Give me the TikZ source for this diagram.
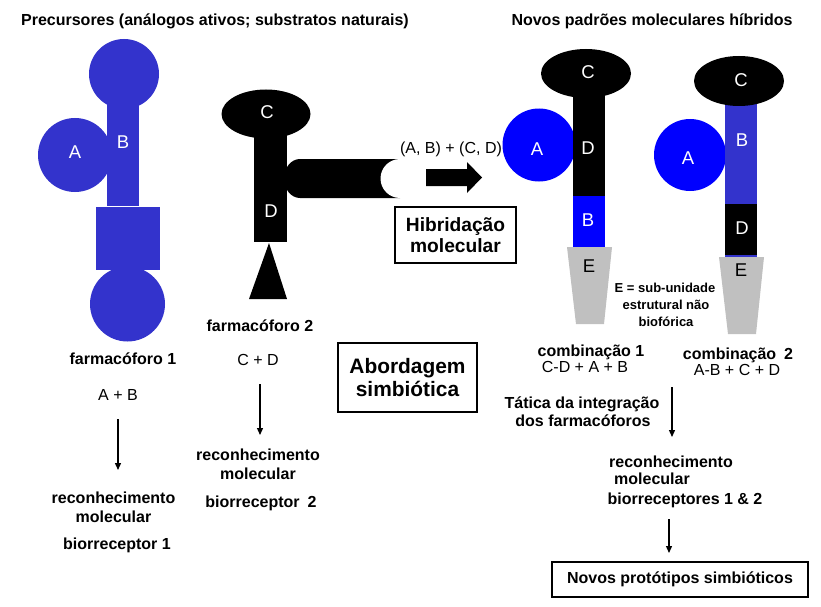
\documentclass[tikz,border=0pt]{standalone}
\usepackage{fontspec}
\setmainfont{Liberation Sans}
\usetikzlibrary{arrows.meta}
\definecolor{pblue}{HTML}{3333CC}
\definecolor{bblue}{HTML}{0000FF}
\definecolor{egray}{HTML}{C0C0C0}
\begin{document}
\begin{tikzpicture}[x=1pt,y=-1pt,
  lbl/.style={font=\bfseries\fontsize{16}{18}\selectfont, inner sep=0pt, text height=11.5pt, text depth=0pt},
  rlbl/.style={font=\fontsize{16}{18}\selectfont, inner sep=0pt, text height=11.5pt, text depth=0pt},
  note/.style={font=\bfseries\fontsize{13}{15}\selectfont, inner sep=0pt, text height=9.3pt, text depth=0pt},
  shl/.style={font=\fontsize{18.5}{18.5}\selectfont, inner sep=0pt, text height=13.2pt, text depth=0pt, text=white},
  shk/.style={shl, text=black},
  bigbox/.style={draw, line width=1.6pt, align=center, inner sep=0pt},
  conn/.style={line width=1.3pt, -{Triangle[length=7pt,width=6pt]}}
]
\useasboundingbox (0,0) rectangle (821,607);
\fill[white] (0,0) rectangle (821,607);

% ---------- titles
\node[lbl] (t1) at (215,20) {Precursores (análogos ativos; substratos naturais)};
\node[lbl] (t2) at (652,20) {Novos padrões moleculares híbridos};

% ---------- pharmacophore 1 (blue)
\fill[pblue] (124,74) circle[radius=35];
\fill[pblue] (107,100) rectangle (139,206);
\fill[pblue] (75,155) circle[radius=37];
\fill[pblue] (96,207) rectangle (160,270);
\fill[pblue] (127.5,304) circle[radius=37.5];
\node[shl] (pA) at (75,152) {A};
\node[shl] (pB) at (123,142) {B};

% ---------- pharmacophore 2 (black)
\fill[black] (400,159) -- (300,159)
  arc[start angle=270, end angle=90, x radius=16, y radius=19.5] -- (400,198) -- cycle;
\fill[white] (400,178.5) circle[radius=19.5];
\fill[black] (254,120) rectangle (287,242);
\fill[black] (266,114) ellipse[x radius=44.5, y radius=24.5];
\fill[black] (269,243) -- (287,299) -- (249,299) -- cycle;
\node[shl] (pC) at (267,112) {C};
\node[shl] (pD) at (271,211) {D};

% ---------- hybridization arrow
\node[rlbl] (abcd0) at (451,148) {(A, B) + (C, D)};
\fill[black] (426,169) -- (467,169) -- (467,162) -- (482,177.5) -- (467,193) -- (467,186) -- (426,186) -- cycle;
\node[bigbox, font=\bfseries\fontsize{19.2}{21}\selectfont, minimum width=121pt, minimum height=56pt] (hib) at (455.5,235) {Hibridação\\molecular};
\node[bigbox, font=\bfseries\fontsize{20.9}{23}\selectfont, minimum width=139pt, minimum height=69pt] (abo) at (407.5,377.5) {Abordagem\\simbiótica};

% ---------- combination 1
\fill[bblue] (539,145) circle[radius=36.5];
\fill[black] (573,90) rectangle (605,196);
\fill[bblue] (573,196) rectangle (605,247);
\fill[black] (586,73.5) ellipse[x radius=45, y radius=24.5];
\fill[egray] (567,247) -- (612,247) -- (604,324) -- (576,324) -- cycle;
\node[shl] (c1A) at (537,149) {A};
\node[shl] (c1C) at (588,72) {C};
\node[shl] (c1D) at (588,148) {D};
\node[shl] (c1B) at (588,220) {B};
\node[shk] (c1E) at (589,266) {E};

% ---------- combination 2
\fill[bblue] (690,155) circle[radius=36];
\fill[pblue] (725,100) rectangle (757,204);
\fill[black] (725,204) rectangle (757,255);
\fill[pblue] (725,255) rectangle (757,257.5);
\fill[black] (739,81) ellipse[x radius=45, y radius=25];
\fill[egray] (719,257) -- (764,257) -- (756,334) -- (728,334) -- cycle;
\node[shl] (c2A) at (688,158) {A};
\node[shl] (c2C) at (741,80) {C};
\node[shl] (c2B) at (742,140) {B};
\node[shl] (c2D) at (742,228) {D};
\node[shk] (c2E) at (741,270) {E};

% ---------- E note
\node[note] (n1) at (665,288) {E = sub-unidade};
\node[note] (n2) at (666,305) {estrutural não};
\node[note] (n3) at (666,322) {biofórica};

% ---------- left column
\node[lbl] (f1) at (123,359) {farmacóforo 1};
\node[rlbl] (ab) at (118,395) {A + B};
\coordinate (a1s) at (118,419);
\coordinate (a1e) at (118,470);
\draw[conn] (a1s) -- (a1e);
\node[lbl] (r1) at (113.5,498) {reconhecimento};
\node[lbl] (m1) at (113.5,517) {molecular};
\node[lbl] (b1) at (117,544) {biorreceptor 1};

% ---------- middle column
\node[lbl] (f2) at (260,326) {farmacóforo 2};
\node[rlbl] (cd) at (258,360) {C + D};
\coordinate (a2s) at (260,384);
\coordinate (a2e) at (260,435);
\draw[conn] (a2s) -- (a2e);
\node[lbl] (r2) at (258,455) {reconhecimento};
\node[lbl] (m2) at (258,474) {molecular};
\node[lbl] (b2) at (261,502) {biorreceptor\enspace 2};

% ---------- right column
\node[lbl] (k1) at (591,351) {combinação 1};
\node[rlbl] (k1f) at (585,367) {C-D + A + B};
\node[lbl] (k2) at (738,354) {combinação\enspace 2};
\node[rlbl] (k2f) at (737,370) {A-B + C + D};
\node[lbl] (tt1) at (582,403) {Tática da integração};
\node[lbl] (tt2) at (583,421) {dos farmacóforos};
\coordinate (a3s) at (672,387);
\coordinate (a3e) at (672,437);
\draw[conn] (a3s) -- (a3e);
\node[lbl] (r3) at (671,462) {reconhecimento};
\node[lbl] (m3) at (652,479) {molecular};
\node[lbl] (b3) at (685,499) {biorreceptores 1 \& 2};
\coordinate (a4s) at (669,519);
\coordinate (a4e) at (669,553);
\draw[conn] (a4s) -- (a4e);
\node[draw, line width=1.6pt, minimum width=256pt, minimum height=35pt, inner sep=0pt, font=\bfseries\fontsize{16}{18}\selectfont] (nov) at (680,579.5) {Novos protótipos simbióticos};
\end{tikzpicture}
\end{document}
